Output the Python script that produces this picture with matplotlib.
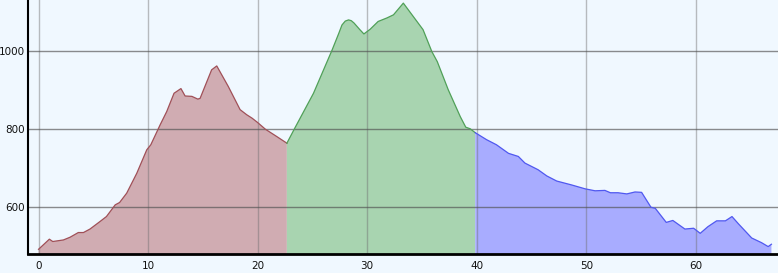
from matplotlib import pyplot as plt

# elevation profile, three stages (km, m)
dist_red = [0.0, 0.99, 1.3, 2.27, 2.88, 3.63, 4.1, 4.7, 5.6, 6.2, 7.0, 7.4, 8.05,
            8.97, 9.88, 10.25, 11.1, 11.7, 12.37, 13.0, 13.38, 14.0, 14.54, 14.75,
            15.8, 16.27, 17.33, 18.4, 19.0, 19.5, 20.0, 20.7, 21.75, 22.67]
elev_red = [492, 518, 512, 516, 523, 535, 535, 544, 563, 576, 606, 612, 636,
            687, 747, 760, 811, 845, 892, 904, 885, 884, 877, 879,
            952, 962, 909, 850, 837, 828, 817, 800, 781, 764]

dist_green = [22.67, 23.4, 25.1, 26.8, 27.4, 27.7, 28.0, 28.3, 28.55, 28.8, 29.3,
              29.7, 30.27, 31.0, 31.8, 32.4, 33.0, 33.3, 34.2, 35.1, 35.9, 36.4,
              37.4, 38.5, 39.0, 39.4, 39.86]
elev_green = [764, 803, 892, 1003, 1045, 1067, 1077, 1080, 1078, 1072, 1056,
              1044, 1056, 1076, 1085, 1093, 1113, 1123, 1089, 1055, 999, 973,
              901, 832, 805, 801, 791]

dist_blue = [39.86, 40.9, 41.8, 42.9, 43.8, 44.4, 45.6, 46.4, 47.3, 48.66, 49.9,
             50.8, 51.7, 52.2, 52.9, 53.7, 54.45, 55.05, 55.9, 56.3, 57.3, 57.9,
             58.25, 59.0, 59.8, 60.4, 61.1, 61.9, 62.7, 63.3, 63.9, 65.1, 66.0,
             66.6, 66.9]
elev_blue = [791, 773, 760, 738, 730, 713, 696, 680, 667, 657, 647,
             642, 643, 637, 637, 634, 639, 638, 600, 597, 561, 566,
             559, 544, 546, 533, 550, 565, 565, 576, 557, 521, 509,
             499, 505]

stages = [
    (dist_red, elev_red, "#d0acb2", "#a05058"),
    (dist_green, elev_green, "#a8d4b0", "#50a058"),
    (dist_blue, elev_blue, "#a8acff", "#5058f0"),
]

fig = plt.figure(figsize=(7.78, 2.73), dpi=100)
fig.patch.set_facecolor("#f0f8ff")
ax = fig.add_axes([28 / 778, 19 / 273, 750 / 778, 254 / 273])
ax.set_facecolor("#f0f8ff")

for d, e, fc, lc in stages:
    ax.fill_between(d, e, 0, color=fc, lw=0, zorder=1)
    ax.plot(d, e, color=lc, lw=0.9, zorder=3)

ax.set_xlim(-0.96, 67.5)
ax.set_ylim(480, 1131)
ax.set_xticks(range(0, 70, 10))
ax.set_yticks([600, 800, 1000])

for v in range(0, 70, 10):
    ax.axvline(v, color="#707070", alpha=0.45, lw=1, zorder=2)
for v in [600, 800, 1000]:
    ax.axhline(v, color="#505050", alpha=0.65, lw=1, zorder=2)

ax.spines['top'].set_visible(False)
ax.spines['right'].set_visible(False)
ax.spines['left'].set_linewidth(1.5)
ax.spines['bottom'].set_linewidth(2)
ax.tick_params(length=0, labelsize=7.5, colors="#111111")
ax.tick_params(axis='x', pad=5)
ax.tick_params(axis='y', pad=2)

fig.savefig("out.png", dpi=100, facecolor=fig.get_facecolor())
